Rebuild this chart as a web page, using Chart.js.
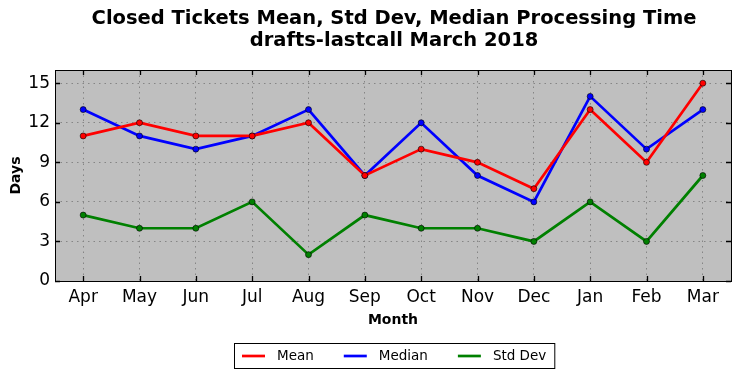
<!DOCTYPE html>
<html>
<head>
<meta charset="utf-8">
<script src="https://cdn.jsdelivr.net/npm/chart.js@4/dist/chart.umd.min.js"></script>
<style>
  html, body { margin: 0; padding: 0; background: #fff; }
  #wrap { width: 741px; height: 378px; }
</style>
</head>
<body>
<div id="wrap"><canvas id="ticketChart" width="741" height="378"></canvas></div>
<script>
const months = ['Apr', 'May', 'Jun', 'Jul', 'Aug', 'Sep', 'Oct', 'Nov', 'Dec', 'Jan', 'Feb', 'Mar'];
const meanDays = [11, 12, 11, 11, 12, 8, 10, 9, 7, 13, 9, 15];
const medianDays = [13, 11, 10, 11, 13, 8, 12, 8, 6, 14, 10, 13];
const stdDevDays = [5, 4, 4, 6, 2, 5, 4, 4, 3, 6, 3, 8];
const yTicks = [0, 3, 6, 9, 12, 15];
const titleLines = ['Closed Tickets Mean, Std Dev, Median Processing Time', 'drafts-lastcall March 2018'];

const FONT = '"DejaVu Sans", sans-serif';

function series(label, data, color) {
    return {
        label: label,
        data: data,
        borderColor: color,
        backgroundColor: color,
        borderWidth: 2.7,
        pointRadius: 3,
        pointBorderColor: '#000',
        pointBorderWidth: 0.6,
        pointBackgroundColor: color,
        tension: 0
    };
}

// grey plot background, frame, inward ticks, title and legend
const mplStyle = {
    id: 'mplStyle',
    beforeDraw(chart) {
        const { ctx, chartArea: a } = chart;
        ctx.save();
        ctx.fillStyle = '#bfbfbf';
        ctx.fillRect(a.left, a.top, a.right - a.left, a.bottom - a.top);
        ctx.restore();
    },
    afterDraw(chart) {
        const { ctx, chartArea: a, scales } = chart;
        ctx.save();
        ctx.strokeStyle = '#000';
        ctx.lineWidth = 1.3;
        // inward tick marks
        ctx.beginPath();
        scales.x.ticks.forEach((t, i) => {
            const x = Math.round(scales.x.getPixelForTick(i)) + 0.5;
            ctx.moveTo(x, a.bottom); ctx.lineTo(x, a.bottom - 5);
            ctx.moveTo(x, a.top); ctx.lineTo(x, a.top + 5);
        });
        scales.y.ticks.forEach(t => {
            const y = Math.round(scales.y.getPixelForValue(t.value)) + 0.5;
            ctx.moveTo(a.left, y); ctx.lineTo(a.left + 5, y);
            ctx.moveTo(a.right, y); ctx.lineTo(a.right - 5, y);
        });
        ctx.stroke();
        ctx.lineWidth = 1;
        ctx.strokeRect(Math.round(a.left) + 0.5, Math.round(a.top) + 0.5,
            Math.round(a.right - a.left), Math.round(a.bottom - a.top));

        // title
        ctx.fillStyle = '#000';
        ctx.textAlign = 'center';
        ctx.textBaseline = 'middle';
        ctx.font = 'bold 19.5px ' + FONT;
        ctx.fillText(titleLines[0], 394, 19);
        ctx.fillText(titleLines[1], 394, 41);

        // axis titles
        ctx.font = 'bold 14px ' + FONT;
        ctx.fillText('Month', (a.left + a.right) / 2, 320);
        ctx.save();
        ctx.translate(16, (a.top + a.bottom) / 2);
        ctx.rotate(-Math.PI / 2);
        ctx.fillText('Days', 0, 0);
        ctx.restore();

        // legend in a framed box
        ctx.font = '13.5px ' + FONT;
        const sets = chart.data.datasets;
        const lineLen = 23, gap = 12, itemGap = 30, pad = 8;
        let w = pad * 2;
        sets.forEach((d, i) => {
            w += lineLen + gap + ctx.measureText(d.label).width;
            if (i < sets.length - 1) w += itemGap;
        });
        const bx = Math.round(394 - w / 2), by = 343, bh = 25;
        ctx.fillStyle = '#fff';
        ctx.fillRect(bx, by, w, bh);
        ctx.strokeStyle = '#000';
        ctx.strokeRect(bx + 0.5, by + 0.5, w, bh);
        let x = bx + pad;
        const cy = by + bh / 2 + 0.5;
        ctx.textAlign = 'left';
        sets.forEach(d => {
            ctx.strokeStyle = d.borderColor;
            ctx.lineWidth = 2.7;
            ctx.beginPath();
            ctx.moveTo(x, cy); ctx.lineTo(x + lineLen, cy);
            ctx.stroke();
            x += lineLen + gap;
            ctx.fillStyle = '#000';
            ctx.fillText(d.label, x, cy);
            x += ctx.measureText(d.label).width + itemGap;
        });
        ctx.restore();
    }
};

const ctx = document.getElementById('ticketChart').getContext('2d');
const ticketChart = new Chart(ctx, {
    type: 'line',
    data: {
        labels: months,
        datasets: [
            series('Mean', meanDays, '#ff0000'),
            series('Median', medianDays, '#0000ff'),
            series('Std Dev', stdDevDays, '#008000')
        ]
    },
    options: {
        responsive: false,
        animation: false,
        layout: { padding: { top: 70, right: 10, bottom: 47, left: 0 } },
        plugins: {
            legend: { display: false },
            title: { display: false },
            tooltip: { enabled: false }
        },
        scales: {
            x: {
                offset: true,
                afterFit(s) { s.height = 50; },
                grid: { offset: false, color: '#858585', lineWidth: 1, drawTicks: false },
                border: { display: false, dash: [1.5, 4] },
                ticks: { color: '#000', padding: 6, font: { family: FONT, size: 17 } }
            },
            y: {
                min: 0,
                max: 16,
                afterFit(s) { s.width = 55; },
                afterBuildTicks(s) { s.ticks = yTicks.map(v => ({ value: v })); },
                grid: { color: '#858585', lineWidth: 1, drawTicks: false },
                border: { display: false, dash: [1.5, 4] },
                ticks: { color: '#000', padding: 5, font: { family: FONT, size: 17 } }
            }
        }
    },
    plugins: [mplStyle]
});
</script>
</body>
</html>
